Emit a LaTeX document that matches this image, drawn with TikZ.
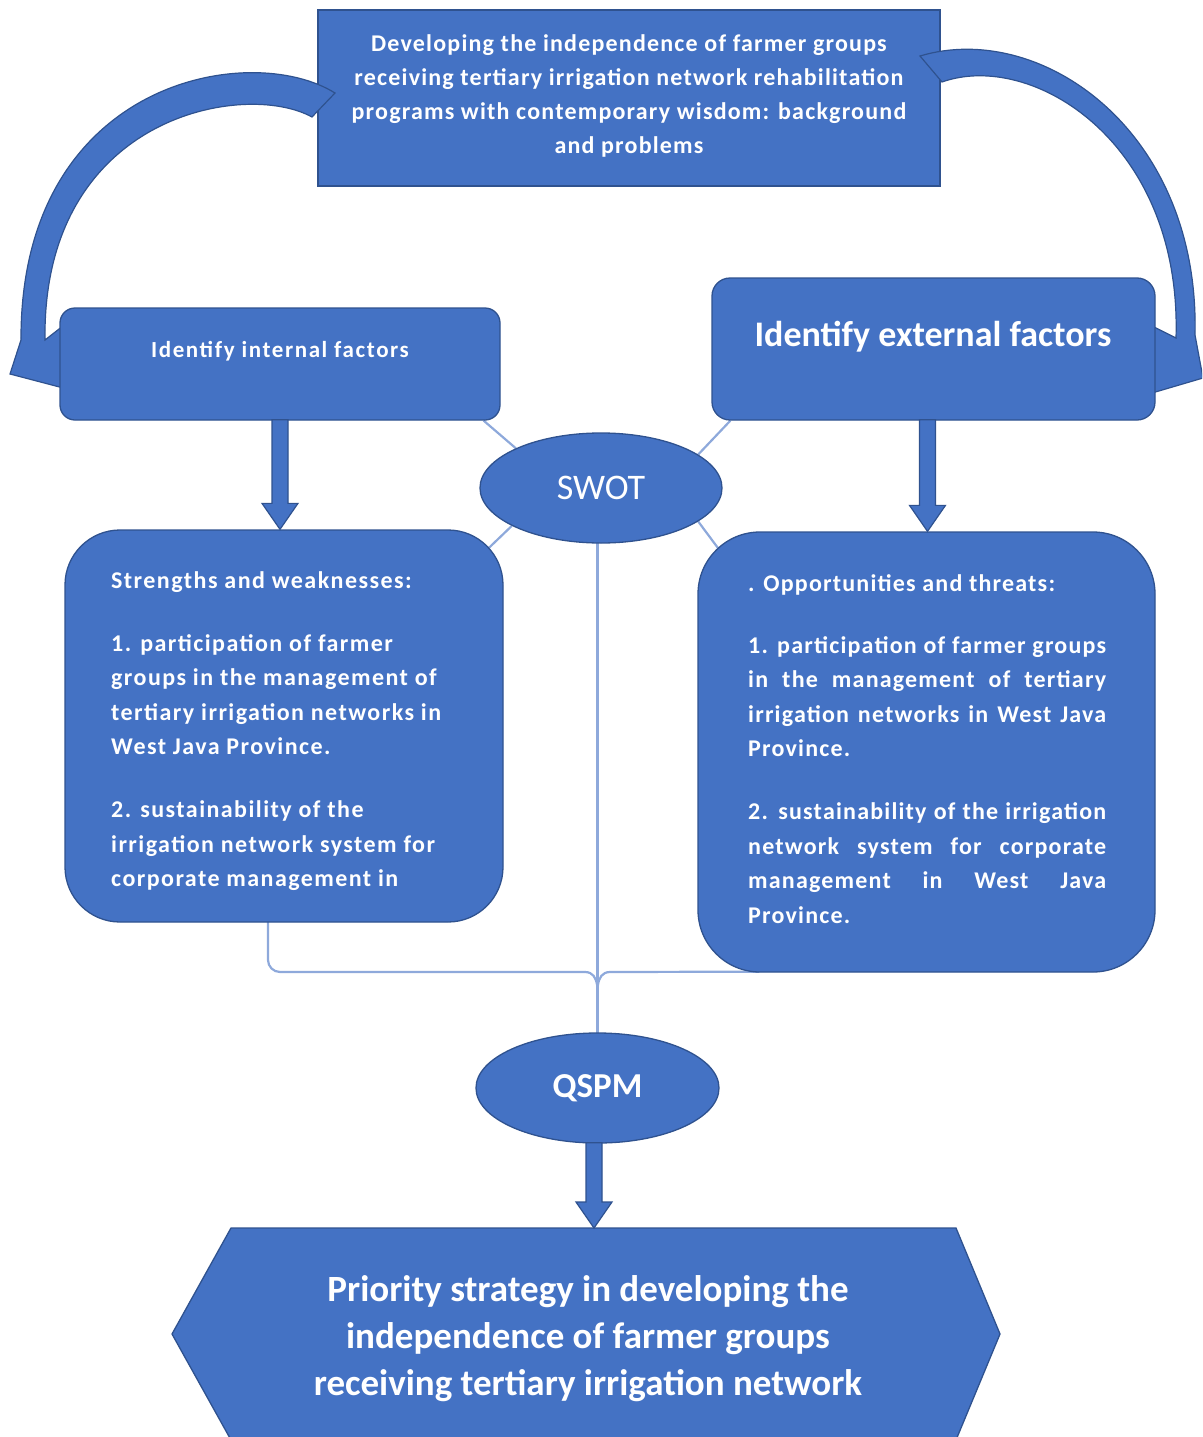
\documentclass[tikz,border=0pt]{standalone}
\usepackage{fontspec}
\setmainfont{Carlito}
\usetikzlibrary{calc,shapes.geometric}
\definecolor{fillblue}{HTML}{4472C4}
\definecolor{edgeblue}{HTML}{2F528F}
\definecolor{lineblue}{HTML}{8EA9DB}
\pgfdeclarelayer{bg}
\pgfsetlayers{bg,main}
\newcommand\spaced{\addfontfeatures{LetterSpace=5}}
\newcommand\bodyfont{\bfseries\fontsize{24}{34.5}\selectfont\spaced}
\newcommand\swfont{\bfseries\fontsize{24}{34.5}\selectfont\addfontfeatures{LetterSpace=6}}
\newcommand\jl[1]{\makebox[358pt][s]{#1}}
\newcommand\blkarrow[2]{%
  \filldraw[blk] ($(#1)+(-8,-1)$) -- ($(#2)+(-8,-26)$) -- ($(#2)+(-18,-26)$) -- (#2)
    -- ($(#2)+(18,-26)$) -- ($(#2)+(8,-26)$) -- ($(#1)+(8,-1)$) -- cycle;}
\begin{document}
\begin{tikzpicture}[x=1pt,y=-1pt,
  box/.style={fill=fillblue, draw=edgeblue, line width=1.3pt},
  lbl/.style={text=white, inner sep=0pt, align=center},
  thinline/.style={draw=lineblue, line width=2.2pt},
  blk/.style={fill=fillblue, draw=edgeblue, line width=1.2pt, line join=miter},
  oval/.style={box, ellipse, text=white, inner sep=0pt},
]
\useasboundingbox (0,0) rectangle (1202,1437);
\clip (0,0) rectangle (1202,1437);

% top box
\node[box, rectangle, minimum width=622pt, minimum height=176pt] (top) at (629,98) {};
\node[lbl, font={\bfseries\fontsize{24}{34}\selectfont\spaced}] (toptxt) at (629,96)
  {Developing the independence of farmer groups\\
   receiving tertiary irrigation network rehabilitation\\
   programs with contemporary wisdom: background\\
   and problems};

% curved block arrows
\filldraw[blk] (335,93) .. controls (250,40) and (20,80) .. (21,340) -- (10,374) -- (90,395)
  -- (68,322) -- (45,340) .. controls (42,115) and (245,80) .. (312,117) -- cycle;
\filldraw[blk] (920,56) .. controls (1040,20) and (1200,130) .. (1195,335) -- (1203,378)
  -- (1135,398) -- (1150,325) -- (1176,338) .. controls (1182,142) and (1032,50) .. (942,82) -- cycle;

% factor boxes
\node[box, rectangle, rounded corners=15pt, minimum width=440pt, minimum height=112pt] (int) at (280,364) {};
\node[lbl, font={\bfseries\fontsize{23}{28}\selectfont\addfontfeatures{LetterSpace=7}}] (inttxt) at (280,351) {Identify internal factors};
\node[box, rectangle, rounded corners=18pt, minimum width=443pt, minimum height=142pt] (ext) at (933.5,349) {};
\node[lbl, font={\bfseries\fontsize{36}{40}\selectfont}] (exttxt) at (933,337) {Identify external factors};

% SWOT
\node[oval, minimum width=242pt, minimum height=110pt, font={\fontsize{36}{40}\selectfont}] (swot) at (601,488) {SWOT};

% strengths / opportunities boxes
\node[box, rectangle, rounded corners=55pt, minimum width=438pt, minimum height=392pt] (sw) at (284,726) {};
\node[lbl, anchor=north west, align=left, font=\swfont] (swtxt) at (111,564)
  {\strut Strengths and weaknesses:\\[28.5pt]
   1. participation of farmer\\
   groups in the management of\\
   tertiary irrigation networks in\\
   West Java Province.\\[28.5pt]
   2. sustainability of the\\
   irrigation network system for\\
   corporate management in};
\node[box, rectangle, rounded corners=62pt, minimum width=457pt, minimum height=440pt] (opp) at (926.5,752) {};
\node[lbl, anchor=north west, align=left, font=\bodyfont] (opptxt) at (748,567)
  {\strut . Opportunities and threats:\\[27.5pt]
   \jl{1. participation of farmer groups}\\
   \jl{in the management of tertiary}\\
   \jl{irrigation networks in West Java}\\
   Province.\\[28.5pt]
   \jl{2. sustainability of the irrigation}\\
   \jl{network system for corporate}\\
   \jl{management in West Java}\\
   Province.};

% QSPM
\node[oval, minimum width=243pt, minimum height=110pt, font={\bfseries\fontsize{35}{40}\selectfont}] (qspm) at (597.5,1088) {QSPM};

% hexagon
\coordinate (hxtop) at (594,1228);
\filldraw[box] (231,1228) -- (956,1228) -- (1000,1334) -- (956,1440) -- (231,1440) -- (172,1334) -- cycle;
\node[lbl, font={\bfseries\fontsize{37}{47}\selectfont}] (hex) at (588,1339)
  {Priority strategy in developing the\\
   independence of farmer groups\\
   receiving tertiary irrigation network};

% thin connectors (behind)
\begin{pgfonlayer}{bg}
\draw[thinline] ($(int.south east)+(-17,0)$) -- (swot.155);
\draw[thinline] ($(ext.south west)+(19,0)$) -- (swot.19);
\draw[thinline] (swot.203) -- ($(sw.north east)+(-33,36)$);
\draw[thinline] (swot.-19) -- ($(opp.north west)+(35,36)$);
\coordinate (jn) at (597.5,1010);
\draw[thinline] (swot.center -| qspm.center) -- (qspm.center);
\draw[thinline, rounded corners=12pt] ($(sw.south)+(-16,-4)$) -- (268,972) -- (585,972);
\draw[thinline] (585,972) to[out=0,in=90] (jn);
\draw[thinline] ($(opp.south west)+(62,-1)$) -- (610,972) to[out=180,in=90] (jn);
\end{pgfonlayer}

% straight block arrows
\coordinate (a1) at (int.south);
\coordinate (a2) at (int.south |- sw.north);
\blkarrow{a1}{a2}
\coordinate (e1) at ($(ext.south)+(-6,0)$);
\coordinate (e2) at (e1 |- opp.north);
\blkarrow{e1}{e2}
\coordinate (q1) at (qspm.south -| hxtop);
\blkarrow{q1}{hxtop}
\end{tikzpicture}
\end{document}
